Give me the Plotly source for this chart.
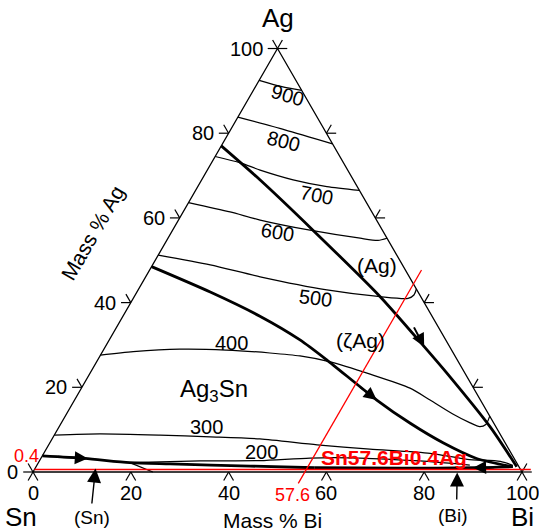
import numpy as np
import plotly.graph_objects as go

# ---------------- data (mass % Bi, mass % Ag) ----------------
ticks = [0, 20, 40, 60, 80, 100]
tick_labels = ["0", "20", "40", "60", "80", "100"]

iso900_bi = [0, 5.4, 9.9]
iso900_ag = [92.5, 91.0, 90.1]
iso800_bi = [0, 11.1, 22.5]
iso800_ag = [83.8, 80.8, 77.5]
iso700_bi = [0, 5.9, 10.8, 18.7, 26.4, 33.5]
iso700_ag = [74.5, 73.0, 71.3, 69.0, 67.4, 66.5]
iso600_bi = [0, 9.6, 16.7, 28.1, 39.3, 43.2, 44.8]
iso600_ag = [63.6, 61.4, 59.5, 57.1, 55.2, 54.7, 55.2]
iso500_bi = [0, 11.8, 23.4, 38.6, 50.3, 56.2, 57.0, 56.8]
iso500_ag = [51.2, 48.9, 46.1, 43.0, 41.4, 41.0, 41.8, 43.2]
iso400_bi = [0, 6.3, 15.5, 25.1, 34.4, 40.9, 47.8, 57.4, 67.2, 72.7, 79.0, 83.6, 86.0, 87.0, 86.8]
iso400_ag = [27.6, 28.4, 29.0, 28.8, 28.1, 27.4, 26.0, 23.1, 19.8, 17.0, 13.7, 11.6, 10.7, 11.2, 13.2]
iso300_bi = [0, 9.2, 21.6, 32.1, 42.5, 54.9, 66.2, 79.0, 87.3, 94.3, 97.3]
iso300_ag = [8.7, 9.0, 8.7, 8.3, 7.8, 6.4, 5.4, 4.4, 3.0, 2.5, 1.6]
iso200_bi = [18.7, 32.9, 45.1, 55.0, 65.2, 77.8, 88.5]
iso200_ag = [2.2, 2.6, 2.7, 3.3, 3.3, 2.6, 1.65]
iso200sn_bi = [18.7, 24.5]
iso200sn_ag = [2.2, 0]

thick1_bi = [0, 11.9, 28.7, 50.3, 65.2, 72.9, 88.1, 98.3]
thick1_ag = [77.0, 69.0, 57.1, 41.4, 29.6, 23.4, 10.7, 1.25]
thick2_bi = [0, 15.0, 28.0, 39.0, 46.8, 61.8, 71.4, 80.4, 89.1, 97.5]
thick2_ag = [48.5, 42.5, 36.8, 31.2, 26.5, 17.0, 11.5, 6.9, 3.2, 1.25]
thick3_bi = [0, 9.0, 18.7, 27.1, 43.7, 57.0]
thick3_ag = [3.8, 3.2, 2.2, 1.9, 1.4, 1.0]
thick4_bi = [97.5, 90, 75, 57.0]
thick4_ag = [1.25, 1.0, 0.9, 1.0]

# arrows on the monovariant lines: (tip Bi, tip Ag, from Bi, from Ag)
arrow_tip_bi = [65.2, 61.8, 9.6, 89.5]
arrow_tip_ag = [29.6, 17.0, 3.2, 1.0]
arrow_from_bi = [60.5, 56.5, 3.0, 94.0]
arrow_from_ag = [34.5, 20.3, 3.6, 1.15]

# alloy marker lines (as drawn)
red_ag_level = 0.6
red_ag_bi = [0, 101.5]
red_bi_level = 55.6
red_bi_ag = [-2.7, 47.7]

# ---------------- helpers ----------------
S3 = np.sqrt(3) / 2


def tern(bi, ag):
    bi = np.asarray(bi, float) / 100.0
    ag = np.asarray(ag, float) / 100.0
    return bi + ag / 2.0, ag * S3


def pix(xp, yp):
    return (xp - 33) / 489.0, (472 - yp) / 489.0


FONT = "Liberation Sans, Arial, sans-serif"
fig = go.Figure()


def add_line(bi, ag, width, color="black", shape="spline", smoothing=0.7):
    x, y = tern(bi, ag)
    fig.add_trace(go.Scatter(x=x, y=y, mode="lines",
                             line=dict(color=color, width=width, shape=shape,
                                       smoothing=smoothing),
                             hoverinfo="skip", showlegend=False))


# triangle edges
add_line([0, 100, 0, 0], [0, 0, 100, 0], 1.3, shape="linear")

# tick marks
L = 0.02
tx, ty = [], []
for t in ticks:
    bx, by = tern([t], [0])
    for dx, dy in [(-0.5, -S3), (0.5, -S3)]:
        tx += [bx[0], bx[0] + dx * L, None]
        ty += [by[0], by[0] + dy * L, None]
    lx, ly = tern([0], [t])
    for dx, dy in [(-1, 0), (-0.5, S3)]:
        tx += [lx[0], lx[0] + dx * L, None]
        ty += [ly[0], ly[0] + dy * L, None]
    rx, ry = tern([100 - t], [t])
    for dx, dy in [(1, 0), (0.5, S3)]:
        tx += [rx[0], rx[0] + dx * L, None]
        ty += [ry[0], ry[0] + dy * L, None]
fig.add_trace(go.Scatter(x=tx, y=ty, mode="lines", line=dict(color="black", width=1.2),
                         hoverinfo="skip", showlegend=False))

# isotherms
for bi, ag in [(iso900_bi, iso900_ag), (iso800_bi, iso800_ag), (iso700_bi, iso700_ag),
               (iso600_bi, iso600_ag), (iso500_bi, iso500_ag), (iso400_bi, iso400_ag),
               (iso300_bi, iso300_ag), (iso200_bi, iso200_ag), (iso200sn_bi, iso200sn_ag)]:
    add_line(bi, ag, 1.25)

# monovariant lines
for bi, ag in [(thick1_bi, thick1_ag), (thick2_bi, thick2_ag),
               (thick3_bi, thick3_ag), (thick4_bi, thick4_ag)]:
    add_line(bi, ag, 2.8)

# red lines
add_line(red_ag_bi, [red_ag_level] * 2, 1.5, color="red", shape="linear")
add_line([red_bi_level] * 2, red_bi_ag, 1.3, color="red", shape="linear")

annotations = []

# arrows on lines
ax_, ay_ = tern(arrow_from_bi, arrow_from_ag)
tx_, ty_ = tern(arrow_tip_bi, arrow_tip_ag)
for i in range(len(arrow_tip_bi)):
    annotations.append(dict(x=tx_[i], y=ty_[i], ax=ax_[i], ay=ay_[i], xref="x", yref="y",
                            axref="x", ayref="y", text="", showarrow=True, arrowhead=2,
                            arrowsize=1.3, arrowwidth=2, arrowcolor="black", standoff=0))

# tick labels
for t, lab in zip(ticks, tick_labels):
    bx, by = tern([t], [0])
    annotations.append(dict(x=bx[0], y=by[0], xref="x", yref="y", text=lab, showarrow=False,
                            yshift=-21, font=dict(family=FONT, size=20, color="black")))
    lx, ly = tern([0], [t])
    annotations.append(dict(x=lx[0], y=ly[0], xref="x", yref="y", text=lab, showarrow=False,
                            xanchor="right", xshift=-13, yshift=0,
                            font=dict(family=FONT, size=20, color="black")))


def text(xp, yp, s, size, color="black", angle=0, **kw):
    x, y = pix(xp, yp)
    annotations.append(dict(x=x, y=y, xref="x", yref="y", text=s, showarrow=False,
                            textangle=angle, font=dict(family=FONT, size=size, color=color), **kw))


text(278, 18, "Ag", 26)
text(21, 517, "Sn", 26)
text(522, 517, "Bi", 26)
text(272, 520, "Mass % Bi", 21)
text(92, 233, "Mass % Ag", 21, angle=-60)

# isotherm labels
text(287, 95, "900", 20, angle=16)
text(283, 141, "800", 20, angle=14)
text(316, 195, "700", 20, angle=11)
text(277, 232, "600", 20, angle=9)
text(315, 298, "500", 20, angle=7)
text(231, 343, "400", 20)
text(206, 427, "300", 20)
text(261, 452, "200", 20)

# phase labels
text(214, 390, "Ag<sub>3</sub>Sn", 24)
text(377, 265, "(Ag)", 21)
text(360, 340, "(ζAg)", 21)
text(92, 517, "(Sn)", 19)
text(453, 515, "(Bi)", 19)

# phase arrows
for (x0, y0, x1, y1) in [(91.7, 505, 95.5, 468.5), (456.7, 501, 457.2, 472.5)]:
    a0, b0 = pix(x0, y0)
    a1, b1 = pix(x1, y1)
    annotations.append(dict(x=a1, y=b1, ax=a0, ay=b0, xref="x", yref="y", axref="x", ayref="y",
                            text="", showarrow=True, arrowhead=2, arrowsize=2, arrowwidth=1.4,
                            arrowcolor="black", standoff=0))

# red texts
text(394, 457, "<b>Sn57.6Bi0.4Ag</b>", 21, color="red")
text(292, 495, "57.6", 18, color="red")
text(26, 456, "0.4", 18, color="red")

fig.update_layout(
    width=539, height=532,
    margin=dict(l=0, r=0, t=0, b=0),
    paper_bgcolor="white", plot_bgcolor="white",
    xaxis=dict(range=[-33 / 489.0, (539 - 33) / 489.0], visible=False, fixedrange=True),
    yaxis=dict(range=[(472 - 532) / 489.0, 472 / 489.0], visible=False, fixedrange=True),
    annotations=annotations,
    showlegend=False,
)

fig.write_html("out.html")
